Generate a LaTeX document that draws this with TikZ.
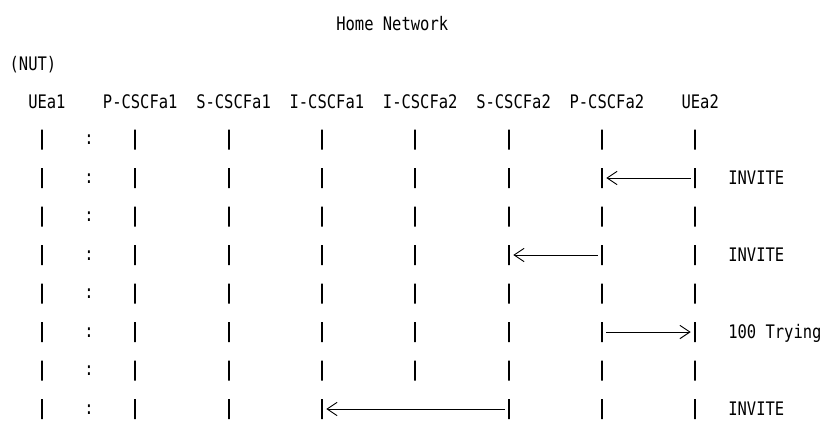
\documentclass[tikz,border=0pt]{standalone}
\usepackage{fontspec}
\newfontfamily\asciifont[FakeStretch=0.83]{DejaVu Sans Mono}
\usepackage{tikz}
\usetikzlibrary{arrows.meta}

\tikzset{
  txt/.style={anchor=base west, inner sep=0pt, font=\asciifont\fontsize{14pt}{14pt}\selectfont},
  bar/.style={draw, line width=1.5pt, inner sep=0pt, outer sep=0pt, minimum width=0pt, minimum height=15pt},
  msg/.style={line width=0.7pt, shorten <=3.2pt, shorten >=3.2pt, -{Straight Barb[length=7.5pt,width=10pt]}}
}

\begin{document}
\begin{tikzpicture}[x=0.75pt, y=-0.75pt]
\useasboundingbox (0,0) rectangle (823,422);
\node[txt] (home) at (336,30) {Home Network};
\node[txt] (nut) at (9.33,70.7) {(NUT)};
\foreach \lbl/\nm/\c in {UEa1/ue1/3, P-CSCFa1/pcscf1/11, S-CSCFa1/scscf1/21, I-CSCFa1/icscf1/31,
  I-CSCFa2/icscf2/41, S-CSCFa2/scscf2/51, P-CSCFa2/pcscf2/61, UEa2/ue2/73}
  \node[txt] (\nm) at ({\c*9.333},108.3) {\lbl};
\foreach \r [evaluate=\r as \yy using 139.5+38.5*(\r-1)] in {1,...,8} {
  \node[txt] (colon-\r) at (84,\yy+5) {:};
  \foreach \c [count=\i] in {4,14,...,74} {
    \pgfmathtruncatemacro\hide{and(\r==8,\i==5)}
    \ifnum\hide=0 \node[bar] (b-\r-\i) at ({round((\c+0.5)*9.333)},\yy) {}; \fi
  }
}
\draw[msg] (b-2-8) -- (b-2-7);
\draw[msg] (b-4-7) -- (b-4-6);
\draw[msg] (b-6-7) -- (b-6-8);
\draw[msg] (b-8-6) -- (b-8-4);
\node[txt] (invite-a) at (728,184.8) {INVITE};
\node[txt] (invite-b) at (728,261.8) {INVITE};
\node[txt] (trying) at (728,338.8) {100 Trying};
\node[txt] (invite-c) at (728,415.8) {INVITE};
\end{tikzpicture}
\end{document}
